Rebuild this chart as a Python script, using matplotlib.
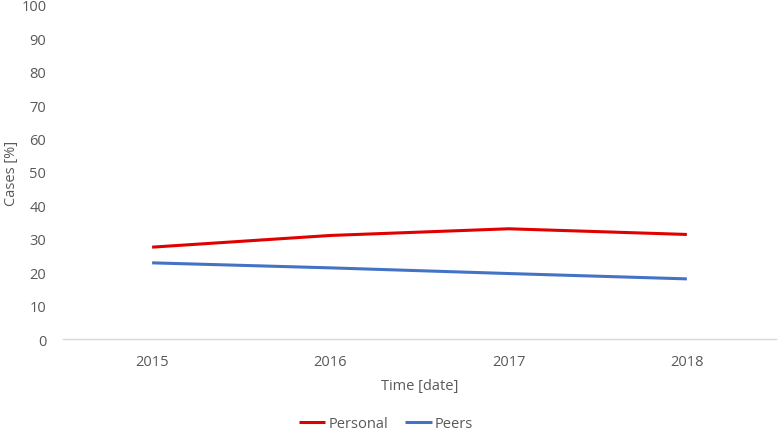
import matplotlib
matplotlib.use("Agg")
import matplotlib.pyplot as plt

# Data
years = ["2015", "2016", "2017", "2018"]
personal = [27.5, 31.0, 33.0, 31.3]
peers = [22.8, 21.3, 19.6, 18.0]

plt.rcParams['font.family'] = ['Open Sans', 'DejaVu Sans']
txt = '#595959'

fig = plt.figure(figsize=(7.78, 4.31), dpi=100)
ax = fig.add_axes([63 / 778, 1 - 340 / 431, (776 - 63) / 778, (340 - 6) / 431])

x = range(len(years))
ax.plot(x, personal, color='#E00000', lw=2.2, label='Personal', solid_capstyle='butt')
ax.plot(x, peers, color='#4472C4', lw=2.2, label='Peers', solid_capstyle='butt')

ax.set_xlim(-0.5, len(years) - 0.5)
ax.set_ylim(0, 100)
ax.set_yticks(range(0, 101, 10))
ax.set_xticks(list(x))
ax.set_xticklabels(years)

for s in ['top', 'right', 'left']:
    ax.spines[s].set_visible(False)
ax.spines['bottom'].set_color('#D9D9D9')
ax.spines['bottom'].set_linewidth(1.0)
ax.tick_params(axis='both', length=0, colors=txt, labelsize=10.5)
ax.tick_params(axis='x', pad=11)
ax.tick_params(axis='y', pad=12)

ax.set_xlabel('Time [date]', color=txt, fontsize=10.5, labelpad=6)
ax.set_ylabel('Cases [%]', color=txt, fontsize=10.5)
ax.yaxis.set_label_coords(-0.062, 0.5)

ax.legend(loc='center', bbox_to_anchor=(0.453, -0.252), ncol=2, frameon=False,
          fontsize=10.5, labelcolor=txt, handlelength=1.8, handletextpad=0.2,
          columnspacing=1.2)

fig.savefig('out.png', dpi=100)
